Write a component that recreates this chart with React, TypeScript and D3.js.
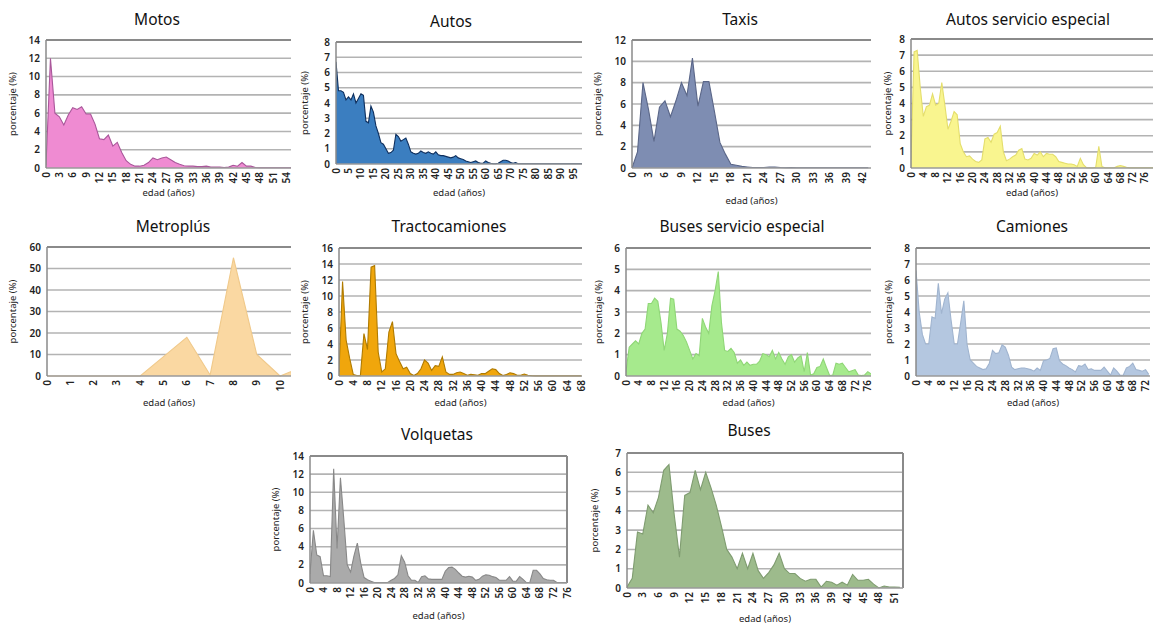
import * as d3 from 'd3';

// porcentaje (%) por edad (años)
const motos = [0.3, 12, 6.0, 5.6, 4.7, 5.8, 6.6, 6.4, 6.7, 5.9, 5.9, 4.8, 3.2, 3.1, 3.6, 2.4, 2.8, 1.7, 0.8, 0.4,
  0.2, 0.2, 0.3, 0.6, 1.1, 0.9, 1.1, 1.2, 0.9, 0.6, 0.4, 0.25, 0.2, 0.2, 0.15, 0.15, 0.2, 0.1, 0.1, 0.1,
  0.05, 0.1, 0.3, 0.2, 0.6, 0.2, 0.2, 0.05, 0.02, 0.02, 0.02, 0.02, 0.02, 0.02, 0.02, 0.02];

const autos = [6.7, 4.8, 4.8, 4.7, 4.2, 4.4, 4.2, 4.6, 4.0, 4.3, 4.6, 4.5, 2.8, 2.7, 3.8, 3.4, 2.5, 2.0, 1.4, 1.3,
  1.0, 0.7, 0.75, 0.9, 1.95, 1.8, 1.5, 1.6, 1.7, 1.3, 0.8, 0.7, 0.65, 0.7, 0.85, 0.75, 0.7, 0.8, 0.7, 0.65,
  0.8, 0.6, 0.55, 0.55, 0.5, 0.45, 0.4, 0.45, 0.55, 0.4, 0.35, 0.3, 0.2, 0.15, 0.1, 0.15, 0.2, 0.1, 0.05, 0.05,
  0.2, 0.1, 0.05, 0.02, 0.02, 0.05, 0.15, 0.25, 0.25, 0.2, 0.1, 0.05, 0.1, 0.02, 0.02, 0.02, 0.02, 0.02, 0.02, 0.02,
  0.02, 0.02, 0.02, 0.02, 0.02, 0.02, 0.02, 0.02, 0.02, 0.02, 0.02, 0.02, 0.02, 0.02, 0.02, 0.02, 0.02, 0.02, 0.02, 0.02];

const taxis = [0, 1.5, 8.0, 5.5, 2.5, 5.7, 6.3, 4.8, 6.3, 8.0, 6.8, 10.3, 5.8, 8.1, 8.1, 5.3, 2.4, 1.3, 0.35, 0.25,
  0.15, 0.1, 0.05, 0.05, 0.05, 0.1, 0.1, 0.05, 0.02, 0.05, 0.02, 0.02, 0.02, 0.02, 0.02, 0.02, 0.02, 0.02, 0.02, 0.02,
  0.02, 0.02, 0.02, 0.02];

const autosEspecial = [0.5, 7.2, 7.3, 5.0, 3.2, 3.8, 3.9, 4.6, 3.9, 4.0, 5.3, 3.9, 2.4, 2.9, 3.5, 3.3, 1.5, 1.0, 0.7, 0.75,
  0.55, 0.4, 0.35, 0.5, 1.8, 1.9, 1.6, 2.1, 2.2, 2.6, 1.0, 0.45, 0.55, 0.7, 0.8, 1.1, 1.2, 0.55, 0.5, 0.6,
  0.9, 0.8, 1.0, 0.7, 0.9, 0.85, 0.85, 0.7, 0.4, 0.35, 0.3, 0.25, 0.25, 0.2, 0.1, 0.6, 0.2, 0.02, 0.02, 0.02,
  0.05, 1.35, 0.1, 0.02, 0.02, 0.02, 0.02, 0.1, 0.15, 0.1, 0.05, 0.02, 0.02, 0.02, 0.02, 0.02, 0.02, 0.02, 0.02, 0.02];

const metroplus = [0, 0, 0, 0, 0, 9, 18, 0.5, 55, 10, 0, 4.3];

const tractocamiones = [0.5, 11.8, 4.5, 2.2, 0.2, 0.05, 0.05, 5.3, 3.3, 13.6, 13.8, 3.0, 0.5, 0.9, 5.5, 6.8, 2.8, 1.8, 0.9, 1.1,
  0.3, 0.05, 0.3, 0.9, 2.0, 1.6, 0.7, 1.3, 1.2, 2.4, 0.5, 0.2, 0.2, 0.4, 0.5, 0.3, 0.1, 0.2, 0.15, 0.1,
  0.3, 0.3, 0.6, 0.9, 0.8, 0.3, 0.05, 0.2, 0.4, 0.3, 0.1, 0.1, 0.25, 0.1, 0.05, 0.02, 0.02, 0.02, 0.02, 0.02,
  0.02, 0.02, 0.02, 0.02, 0.02, 0.02, 0.02, 0.02, 0.02];

const busesEspecial = [0.2, 1.35, 1.5, 1.65, 1.5, 2.0, 2.2, 3.4, 3.4, 3.65, 3.5, 2.5, 1.2, 2.0, 3.65, 3.6, 2.2, 2.1, 1.9, 1.6,
  1.2, 0.8, 1.05, 0.95, 2.7, 2.3, 2.0, 3.3, 4.0, 4.9, 2.5, 1.2, 1.15, 1.3, 1.1, 0.6, 0.75, 0.5, 0.65, 0.5,
  0.55, 0.55, 0.7, 1.05, 1.0, 0.9, 1.2, 0.8, 1.1, 0.8, 0.55, 0.9, 1.0, 0.65, 0.85, 0.95, 0.2, 1.1, 0.05, 0.1,
  0.4, 0.45, 0.8, 0.4, 0.02, 0.05, 0.6, 0.55, 0.6, 0.4, 0.2, 0.25, 0.3, 0.05, 0.02, 0.05, 0.2, 0.1];

const camiones = [6.6, 4.0, 2.6, 2.0, 2.0, 3.7, 3.6, 5.8, 3.9, 4.8, 5.2, 3.5, 2.0, 2.0, 3.3, 4.7, 2.0, 1.0, 0.8, 0.6,
  0.5, 0.4, 0.45, 0.8, 1.6, 1.4, 1.45, 1.95, 1.8, 1.3, 0.55, 0.4, 0.45, 0.5, 0.5, 0.45, 0.4, 0.3, 0.5, 0.35,
  0.95, 1.0, 1.1, 1.7, 1.75, 0.95, 0.75, 0.65, 0.5, 0.4, 0.25, 0.65, 0.6, 0.75, 0.4, 0.45, 0.35, 0.35, 0.35, 0.55,
  0.3, 0.05, 0.5, 0.3, 0.05, 0.05, 0.5, 0.6, 0.8, 0.4, 0.35, 0.3, 0.4, 0.1];

const volquetas = [1.0, 5.8, 3.1, 2.9, 0.8, 0.8, 0.7, 12.6, 3.8, 11.6, 7.0, 2.0, 1.2, 3.0, 4.4, 2.2, 0.6, 0.35, 0.2, 0.05,
  0.05, 0.05, 0.05, 0.05, 0.3, 0.5, 0.9, 3.0, 2.3, 0.8, 0.3, 0.3, 0.05, 0.7, 0.8, 0.45, 0.4, 0.4, 0.4, 0.4,
  1.3, 1.7, 1.75, 1.5, 1.1, 0.75, 0.65, 0.75, 0.65, 0.3, 0.4, 0.75, 0.9, 0.85, 0.7, 0.6, 0.3, 0.3, 0.3, 0.7,
  0.2, 0.2, 0.7, 0.4, 0.05, 0.05, 1.4, 1.4, 1.0, 0.5, 0.35, 0.3, 0.3, 0.05, 0.05, 0.05, 0.05];

const buses = [0.05, 0.5, 2.9, 2.8, 4.3, 3.9, 4.7, 6.1, 6.4, 3.8, 1.6, 4.8, 4.95, 6.1, 5.1, 6.0, 5.2, 4.3, 3.2, 2.0,
  1.6, 1.0, 1.8, 1.0, 1.8, 0.9, 0.5, 0.8, 1.2, 1.8, 1.0, 0.75, 0.75, 0.5, 0.35, 0.45, 0.45, 0.05, 0.35, 0.3,
  0.15, 0.3, 0.15, 0.7, 0.4, 0.4, 0.45, 0.2, 0.0, 0.1, 0.05, 0.05, 0.03];

type Panel = {
  title: string; data: number[]; xMax: number; xStep: number; xTickMax: number;
  yMax: number; yStep: number; left: number; right: number; top: number; bottom: number;
  titleX: number; titleY: number; yLabelX: number; xLabelY: number;
  fill: string; stroke: string; rightBorder?: boolean;
};

const panels: Panel[] = [
  { title: 'Motos', data: motos, xMax: 55, xStep: 3, xTickMax: 54, yMax: 14, yStep: 2,
    left: 46, right: 291, top: 40, bottom: 168, titleX: 157, titleY: 25, yLabelX: 16, xLabelY: 196,
    fill: '#ef8bd2', stroke: '#a9579a' },
  { title: 'Autos', data: autos, xMax: 98.6, xStep: 5, xTickMax: 95, yMax: 8, yStep: 1,
    left: 336, right: 582, top: 42, bottom: 164, titleX: 451, titleY: 27, yLabelX: 308, xLabelY: 196,
    fill: '#3b7ec0', stroke: '#0e2f5e' },
  { title: 'Taxis', data: taxis, xMax: 43.5, xStep: 3, xTickMax: 42, yMax: 12, yStep: 2,
    left: 632, right: 871, top: 40, bottom: 168, titleX: 740, titleY: 25, yLabelX: 601, xLabelY: 204,
    fill: '#7e8db2', stroke: '#5a6688' },
  { title: 'Autos servicio especial', data: autosEspecial, xMax: 78.6, xStep: 4, xTickMax: 76, yMax: 8, yStep: 1,
    left: 911, right: 1153, top: 39, bottom: 168, titleX: 1028, titleY: 25, yLabelX: 891, xLabelY: 196,
    fill: '#f9f58f', stroke: '#e4de6c' },
  { title: 'Metroplús', data: metroplus, xMax: 10.47, xStep: 1, xTickMax: 10, yMax: 60, yStep: 10,
    left: 47, right: 291, top: 247, bottom: 376, titleX: 173, titleY: 232, yLabelX: 16, xLabelY: 406,
    fill: '#fad8a2', stroke: '#f0c98a' },
  { title: 'Tractocamiones', data: tractocamiones, xMax: 68.2, xStep: 4, xTickMax: 68, yMax: 16, yStep: 2,
    left: 339, right: 582, top: 248, bottom: 376, titleX: 449, titleY: 232, yLabelX: 308, xLabelY: 406,
    fill: '#f0a60c', stroke: '#b07b00' },
  { title: 'Buses servicio especial', data: busesEspecial, xMax: 77, xStep: 4, xTickMax: 76, yMax: 6, yStep: 1,
    left: 626, right: 871, top: 248, bottom: 376, titleX: 742, titleY: 232, yLabelX: 602, xLabelY: 406,
    fill: '#a6ea8d', stroke: '#8fd676' },
  { title: 'Camiones', data: camiones, xMax: 73.4, xStep: 4, xTickMax: 72, yMax: 8, yStep: 1,
    left: 916, right: 1150, top: 248, bottom: 376, titleX: 1032, titleY: 232, yLabelX: 892, xLabelY: 406,
    fill: '#b4c7e0', stroke: '#a0b4cf' },
  { title: 'Volquetas', data: volquetas, xMax: 76, xStep: 4, xTickMax: 76, yMax: 14, yStep: 2,
    left: 310, right: 567, top: 456, bottom: 583, titleX: 437, titleY: 440, yLabelX: 279, xLabelY: 619,
    fill: '#aaaaaa', stroke: '#888888', rightBorder: true },
  { title: 'Buses', data: buses, xMax: 52.6, xStep: 3, xTickMax: 51, yMax: 7, yStep: 1,
    left: 627, right: 903, top: 453, bottom: 588, titleX: 749, titleY: 436, yLabelX: 598, xLabelY: 622,
    fill: '#9dbb8c', stroke: '#7f9c70', rightBorder: true },
];

const font = '"Noto Sans", "DejaVu Sans", sans-serif';

function AreaPanel({ p, idx }: { p: Panel; idx: number }) {
  const x = d3.scaleLinear().domain([0, p.xMax]).range([p.left, p.right]);
  const y = d3.scaleLinear().domain([0, p.yMax]).range([p.bottom, p.top]);
  const area = d3.area<number>().x((_, i) => x(i)).y0(y(0)).y1((d) => y(d));
  const line = d3.line<number>().x((_, i) => x(i)).y((d) => y(d));
  const yTicks = d3.range(0, p.yMax + 1e-6, p.yStep);
  const xTicks = d3.range(0, p.xTickMax + 1e-6, p.xStep);
  const clipId = `clip-${idx}`;

  return (
    <g>
      <defs>
        <clipPath id={clipId}>
          <rect x={p.left} y={p.top - 2} width={p.right - p.left} height={p.bottom - p.top + 4} />
        </clipPath>
      </defs>
      <text x={p.titleX} y={p.titleY} textAnchor="middle" fontSize={15.5} fill="#111" fontFamily={font}>
        {p.title}
      </text>
      {yTicks.slice(1, -1).map((t) => (
        <line key={'g' + t} x1={p.left} x2={p.right} y1={y(t)} y2={y(t)} stroke="#b3b3b3" strokeWidth={1.6} />
      ))}
      <g clipPath={`url(#${clipId})`}>
        <path d={area(p.data) ?? ''} fill={p.fill} />
        <path d={line(p.data) ?? ''} fill="none" stroke={p.stroke} strokeWidth={1.1} />
      </g>
      <line x1={p.left} x2={p.right} y1={p.top} y2={p.top} stroke="#8a8a8a" strokeWidth={2} />
      {p.rightBorder && (
        <line x1={p.right} x2={p.right} y1={p.top} y2={p.bottom} stroke="#8a8a8a" strokeWidth={2} />
      )}
      <line x1={p.left} x2={p.right} y1={p.bottom} y2={p.bottom} stroke="#9a9a9a" strokeWidth={1.5} />
      <line x1={p.left} x2={p.left} y1={p.top} y2={p.bottom} stroke="#8a8a8a" strokeWidth={1.5} />
      {yTicks.map((t) => (
        <text key={'y' + t} x={p.left - 6} y={y(t)} dy="0.35em" textAnchor="end" fontSize={10}
          fontWeight={600} fill="#222" fontFamily={font}>
          {t}
        </text>
      ))}
      {xTicks.map((t) => (
        <text key={'x' + t} transform={`translate(${x(t)},${p.bottom + 4}) rotate(-90)`} dy="0.35em"
          textAnchor="end" fontSize={10} fontWeight={600} fill="#222" fontFamily={font}>
          {t}
        </text>
      ))}
      <text transform={`translate(${p.yLabelX},${(p.top + p.bottom) / 2}) rotate(-90)`} textAnchor="middle"
        fontSize={9.5} fill="#222" fontFamily={font}>
        porcentaje (%)
      </text>
      <text x={(p.left + p.right) / 2} y={p.xLabelY} textAnchor="middle" fontSize={9.5} fill="#222" fontFamily={font}>
        edad (años)
      </text>
    </g>
  );
}

export default function App() {
  return (
    <svg width={1154} height={626} style={{ position: 'absolute', left: 0, top: 0, background: '#fff' }}>
      {panels.map((p, i) => (
        <AreaPanel key={p.title} p={p} idx={i} />
      ))}
    </svg>
  );
}
